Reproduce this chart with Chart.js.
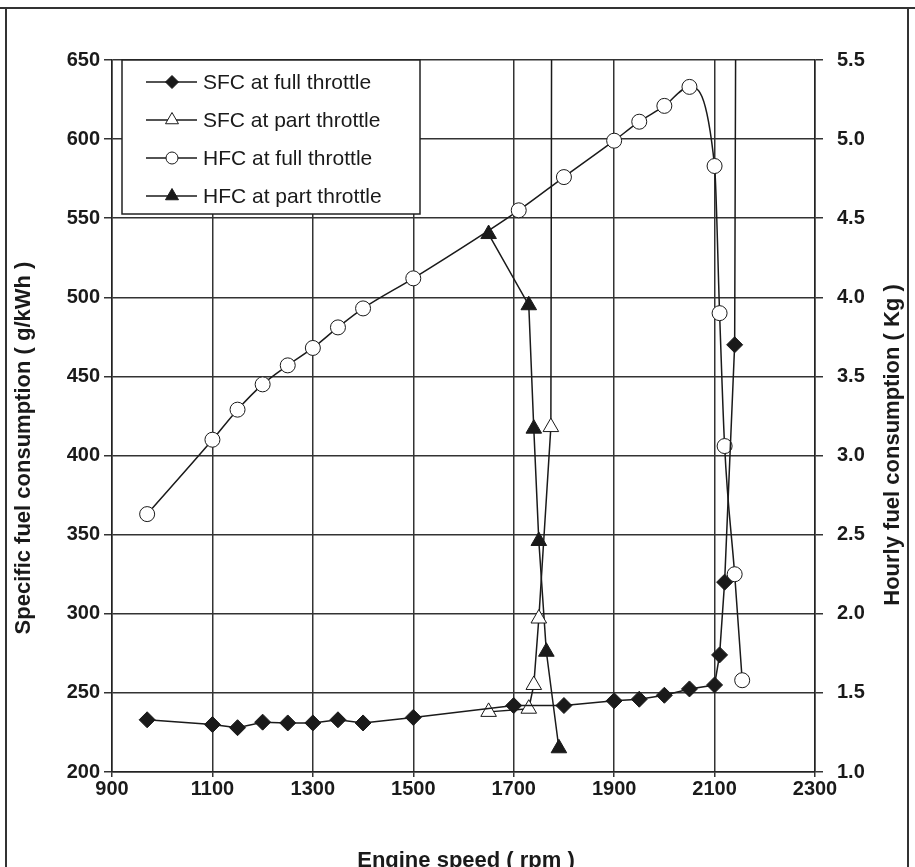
<!DOCTYPE html>
<html>
<head>
<meta charset="utf-8">
<title>Fuel consumption vs engine speed</title>
<script src="https://cdn.jsdelivr.net/npm/chart.js@4.4.1/dist/chart.umd.min.js"></script>
<style>
    html, body { margin: 0; padding: 0; background: #fff; }
    #wrap { width: 915px; height: 867px; }
</style>
</head>
<body>
<div id="wrap"><canvas id="chart" width="915" height="867"></canvas></div>
<script>
// engine speed (rpm) and readings
var sfcFullRpm = [970, 1100, 1150, 1200, 1250, 1300, 1350, 1400, 1500, 1700, 1800, 1900, 1950, 2000, 2050, 2100, 2110, 2120, 2140, 2143];
var sfcFull = [233, 230, 228, 231.5, 231, 231, 233, 231, 234.5, 242, 242, 245, 246, 248.5, 252.5, 255, 274, 320, 470, 760];

var sfcPartRpm = [1650, 1730, 1740, 1750, 1774, 1776];
var sfcPart = [238, 240, 255, 297, 418, 760];

var hfcFullRpm = [970, 1100, 1150, 1200, 1250, 1300, 1350, 1400, 1500, 1710, 1800, 1900, 1950, 2000, 2050, 2100, 2110, 2120, 2140, 2155];
var hfcFull = [2.63, 3.10, 3.29, 3.45, 3.57, 3.68, 3.81, 3.93, 4.12, 4.55, 4.76, 4.99, 5.11, 5.21, 5.33, 4.83, 3.90, 3.06, 2.25, 1.58];

var hfcPartRpm = [1650, 1730, 1740, 1750, 1765, 1790];
var hfcPart = [4.40, 3.95, 3.17, 2.46, 1.76, 1.15];

var seriesNames = ["SFC at full throttle", "SFC at part throttle", "HFC at full throttle", "HFC at part throttle"];
var xTitle = "Engine speed ( rpm )";
var yTitle = "Specific fuel consumption ( g/kWh )";
var y1Title = "Hourly fuel consumption ( Kg )";

var FONT = "'Liberation Sans', Arial, sans-serif";
var INK = "#1a1a1a";

function pairs(xs, ys) {
    return xs.map(function (x, i) { return {x: x, y: ys[i]}; });
}

var pageFrame = {
    id: "pageFrame",
    beforeDraw: function (chart) {
        var ctx = chart.ctx;
        ctx.save();
        ctx.fillStyle = "#fff";
        ctx.fillRect(0, 0, chart.width, chart.height);
        ctx.strokeStyle = "#333";
        ctx.lineWidth = 2;
        ctx.beginPath();
        ctx.moveTo(0, 8); ctx.lineTo(chart.width, 8);
        ctx.moveTo(6, 8); ctx.lineTo(6, chart.height);
        ctx.moveTo(908, 8); ctx.lineTo(908, chart.height);
        ctx.stroke();
        ctx.restore();
    }
};

var titlesAndLegend = {
    id: "titlesAndLegend",
    afterDraw: function (chart) {
        var ctx = chart.ctx;
        var area = chart.chartArea;
        ctx.save();
        ctx.fillStyle = INK;
        ctx.font = "bold 22px " + FONT;
        ctx.textAlign = "center";
        ctx.textBaseline = "middle";

        ctx.save();
        ctx.translate(24, 448);
        ctx.rotate(-Math.PI / 2);
        ctx.fillText(yTitle, 0, 0);
        ctx.restore();

        ctx.save();
        ctx.translate(893, 445);
        ctx.rotate(-Math.PI / 2);
        ctx.fillText(y1Title, 0, 0);
        ctx.restore();

        ctx.textBaseline = "top";
        ctx.fillText(xTitle, 466, 850);

        // legend box in the top-left corner of the plot
        var bx = area.left + 10, by = area.top, bw = 298, bh = 154;
        ctx.fillStyle = "#fff";
        ctx.fillRect(bx, by, bw, bh);
        ctx.strokeStyle = "#222";
        ctx.lineWidth = 1.5;
        ctx.strokeRect(bx, by, bw, bh);

        ctx.font = "21px " + FONT;
        ctx.textAlign = "left";
        ctx.textBaseline = "middle";
        chart.data.datasets.forEach(function (ds, i) {
            var ry = by + 22 + i * 38;
            ctx.strokeStyle = ds.borderColor;
            ctx.lineWidth = ds.borderWidth;
            ctx.beginPath();
            ctx.moveTo(bx + 24, ry);
            ctx.lineTo(bx + 75, ry);
            ctx.stroke();
            ctx.fillStyle = ds.pointBackgroundColor;
            ctx.lineWidth = ds.pointBorderWidth;
            Chart.helpers.drawPoint(ctx, {
                pointStyle: ds.pointStyle,
                radius: ds.pointRadius - 1.5,
                borderWidth: ds.pointBorderWidth,
                rotation: 0
            }, bx + 50, ry);
            ctx.fillStyle = INK;
            ctx.fillText(ds.label, bx + 81, ry + 1);
        });
        ctx.restore();
    }
};

var ctx = document.getElementById("chart").getContext("2d");
var myChart = new Chart(ctx, {
    type: "line",
    data: {
        datasets: [{
            label: seriesNames[0],
            data: pairs(sfcFullRpm, sfcFull),
            yAxisID: "y",
            borderColor: INK,
            borderWidth: 1.5,
            pointStyle: "rectRot",
            pointRadius: 8,
            pointBackgroundColor: INK,
            pointBorderColor: INK,
            pointBorderWidth: 1
        }, {
            label: seriesNames[1],
            data: pairs(sfcPartRpm, sfcPart),
            yAxisID: "y",
            borderColor: INK,
            borderWidth: 1.5,
            pointStyle: "triangle",
            pointRadius: 9,
            pointBackgroundColor: "#fff",
            pointBorderColor: INK,
            pointBorderWidth: 1
        }, {
            label: seriesNames[2],
            data: pairs(hfcFullRpm, hfcFull),
            yAxisID: "y1",
            borderColor: INK,
            borderWidth: 1.5,
            cubicInterpolationMode: "monotone",
            pointStyle: "circle",
            pointRadius: 7.5,
            pointBackgroundColor: "#fff",
            pointBorderColor: INK,
            pointBorderWidth: 1
        }, {
            label: seriesNames[3],
            data: pairs(hfcPartRpm, hfcPart),
            yAxisID: "y1",
            borderColor: INK,
            borderWidth: 1.5,
            pointStyle: "triangle",
            pointRadius: 9,
            pointBackgroundColor: INK,
            pointBorderColor: INK,
            pointBorderWidth: 1
        }]
    },
    options: {
        responsive: false,
        animation: false,
        layout: {padding: {top: 60, left: 0, right: 0, bottom: 0}},
        plugins: {
            legend: {display: false},
            tooltip: {enabled: false}
        },
        scales: {
            x: {
                type: "linear",
                min: 900,
                max: 2300,
                afterFit: function (s) { s.height = 95; },
                ticks: {
                    stepSize: 200, padding: 0, color: INK,
                    font: {family: FONT, size: 20, weight: "bold"},
                    callback: function (v) { return String(v); }
                },
                grid: {color: "#333", lineWidth: 1.5, tickLength: 5},
                border: {color: "#222", width: 1.5}
            },
            y: {
                position: "left",
                min: 200,
                max: 650,
                afterFit: function (s) { s.width = 112; },
                ticks: {stepSize: 50, padding: 4, color: INK, font: {family: FONT, size: 20, weight: "bold"}},
                grid: {color: "#333", lineWidth: 1.5, tickLength: 8},
                border: {color: "#222", width: 1.5}
            },
            y1: {
                position: "right",
                min: 1,
                max: 5.5,
                afterFit: function (s) { s.width = 100; },
                ticks: {
                    stepSize: 0.5, padding: 14, color: INK,
                    font: {family: FONT, size: 20, weight: "bold"},
                    callback: function (v) { return v.toFixed(1); }
                },
                grid: {drawOnChartArea: false, color: "#333", lineWidth: 1.5, tickLength: 8},
                border: {color: "#222", width: 1.5}
            }
        }
    },
    plugins: [pageFrame, titlesAndLegend]
});
</script>
</body>
</html>
